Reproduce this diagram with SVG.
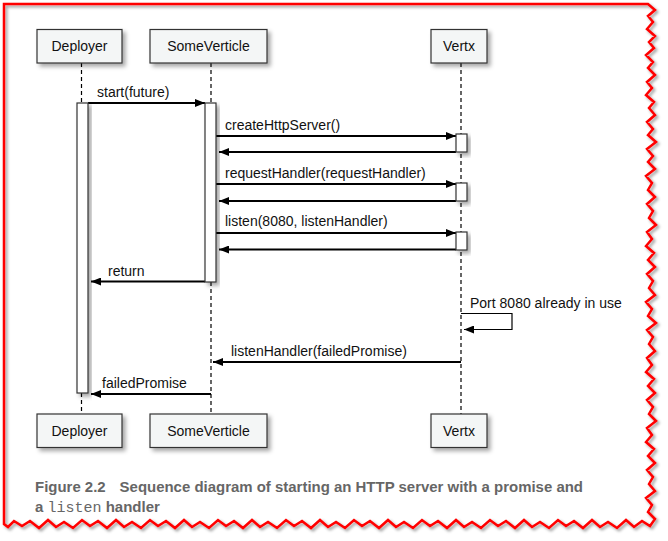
<svg xmlns="http://www.w3.org/2000/svg" width="668" height="541" viewBox="0 0 668 541">
<defs>
  <filter id="sh" x="-20%" y="-20%" width="150%" height="150%">
    <feDropShadow dx="3" dy="3" stdDeviation="2" flood-color="#000" flood-opacity="0.35"/>
  </filter>
  <filter id="bsh" x="-5%" y="-5%" width="110%" height="110%">
    <feDropShadow dx="2" dy="2" stdDeviation="1.5" flood-color="#000" flood-opacity="0.4"/>
  </filter>
  <marker id="ah" viewBox="0 0 10 8" refX="10" refY="4" markerWidth="10" markerHeight="8" markerUnits="userSpaceOnUse" orient="auto">
    <path d="M0,0 L10,4 L0,8 z" fill="#000"/>
  </marker>
</defs>
<style>
  .box{fill:#f4f6f6;stroke:#333;stroke-width:1.2;filter:url(#sh)}
  .bar{fill:#fff;stroke:#333;stroke-width:1.2;filter:url(#sh)}
  .life{stroke:#000;stroke-width:1.2;stroke-dasharray:4,3;fill:none}
  .msg{stroke:#000;stroke-width:1.8;fill:none;marker-end:url(#ah)}
  .self{stroke:#000;stroke-width:1.2;fill:none;marker-end:url(#ah)}
  text{font-family:"Liberation Sans",Arial,sans-serif;font-size:14px;fill:#111}
  .c{text-anchor:middle}
  .cap{font-family:"Liberation Sans",Arial,sans-serif;font-weight:bold;font-size:15px;fill:#666}
  .mono{font-family:"Liberation Mono","Courier New",monospace;font-weight:normal}
</style>
<rect width="668" height="541" fill="#fff"/>
<path filter="url(#bsh)" fill="none" stroke="#f00" stroke-width="2.5" stroke-linejoin="miter" d="M4,4 L648,4 L655,10 L648,16 L653,22 L647,29 L655,36 L649,42 L654,48 L646,55 L653,62 L648,68 L655,75 L647,82 L652,88 L646,95 L654,102 L649,108 L655,115 L647,122 L653,129 L648,135 L656,142 L647,149 L653,156 L648,162 L655,169 L646,176 L652,183 L648,190 L655,197 L647,204 L653,211 L649,218 L656,225 L647,232 L652,239 L646,246 L654,253 L648,260 L655,267 L647,274 L653,281 L649,288 L655,295 L646,302 L652,309 L648,316 L656,323 L647,330 L653,337 L649,344 L655,351 L647,358 L652,365 L646,372 L654,379 L648,386 L655,393 L647,400 L653,407 L649,414 L656,421 L647,428 L652,435 L646,442 L654,449 L648,456 L655,463 L647,470 L653,477 L649,484 L655,491 L646,498 L652,505 L648,512 L655,519 L650,526 L642,521 L634,527 L626,520 L617,528 L608,522 L600,527 L592,520 L583,528 L574,521 L566,526 L558,520 L549,528 L540,522 L532,527 L524,520 L515,528 L506,521 L498,526 L490,520 L481,528 L472,522 L464,527 L456,520 L447,528 L438,521 L430,526 L422,520 L413,528 L404,522 L396,527 L388,520 L379,528 L370,521 L362,526 L354,520 L345,528 L336,522 L328,527 L320,520 L311,528 L302,521 L294,526 L286,520 L277,528 L268,522 L260,527 L252,520 L243,528 L234,521 L226,526 L218,520 L209,528 L200,522 L192,527 L184,520 L175,528 L166,521 L158,526 L150,520 L141,528 L132,522 L124,527 L116,520 L107,528 L98,521 L90,526 L82,520 L73,528 L64,522 L56,527 L48,520 L39,528 L30,521 L22,526 L14,521 L8,527 L4,524 Z"/>

<g id="connectors">
  <!-- lifelines -->
  <line class="life" x1="81.5" y1="63" x2="81.5" y2="103"/>
  <line class="life" x1="81.5" y1="393" x2="81.5" y2="414"/>
  <line class="life" x1="211" y1="63" x2="211" y2="103"/>
  <line class="life" x1="211" y1="282" x2="211" y2="414"/>
  <line class="life" x1="461" y1="63" x2="461" y2="414"/>
  <!-- messages -->
  <line class="msg" x1="88" y1="103" x2="205" y2="103"/>
  <line class="msg" x1="216" y1="136" x2="456" y2="136"/>
  <line class="msg" x1="456" y1="152" x2="219" y2="152"/>
  <line class="msg" x1="216" y1="184" x2="456" y2="184"/>
  <line class="msg" x1="456" y1="201" x2="219" y2="201"/>
  <line class="msg" x1="216" y1="233" x2="456" y2="233"/>
  <line class="msg" x1="456" y1="249.5" x2="219" y2="249.5"/>
  <line class="msg" x1="205" y1="281.5" x2="91" y2="281.5"/>
  <polyline class="self" points="461,313.5 512,313.5 512,329.5 464,329.5"/>
  <line class="msg" x1="461" y1="362" x2="213" y2="362"/>
  <line class="msg" x1="211" y1="394" x2="91" y2="394"/>
</g>

<g id="bars">
  <rect class="bar" x="77" y="103" width="11" height="290"/>
  <rect class="bar" x="205" y="103" width="11" height="179"/>
  <rect class="bar" x="456" y="134" width="11" height="18"/>
  <rect class="bar" x="456" y="183" width="11" height="18"/>
  <rect class="bar" x="456" y="232" width="11" height="18"/>
</g>

<g id="labels">
  <text x="97" y="97">start(future)</text>
  <text x="225" y="130">createHttpServer()</text>
  <text x="225" y="178">requestHandler(requestHandler)</text>
  <text x="225" y="226">listen(8080, listenHandler)</text>
  <text x="108" y="276">return</text>
  <text x="470" y="308">Port 8080 already in use</text>
  <text x="231" y="356">listenHandler(failedPromise)</text>
  <text x="102" y="388">failedPromise</text>
</g>

<g id="Deployer-top"><rect class="box" x="37" y="29.5" width="85" height="33.5"/><text class="c" x="79.5" y="51">Deployer</text></g>
<g id="SomeVerticle-top"><rect class="box" x="150" y="29.5" width="117" height="33.5"/><text class="c" x="208.5" y="51">SomeVerticle</text></g>
<g id="Vertx-top"><rect class="box" x="431" y="29.5" width="56" height="33.5"/><text class="c" x="459" y="51">Vertx</text></g>

<g id="Deployer-bottom"><rect class="box" x="37" y="414" width="85" height="33.5"/><text class="c" x="79.5" y="435.5">Deployer</text></g>
<g id="SomeVerticle-bottom"><rect class="box" x="150" y="414" width="117" height="33.5"/><text class="c" x="208.5" y="435.5">SomeVerticle</text></g>
<g id="Vertx-bottom"><rect class="box" x="431" y="414" width="56" height="33.5"/><text class="c" x="459" y="435.5">Vertx</text></g>

<g id="caption">
  <text class="cap" x="35" y="492" textLength="548" lengthAdjust="spacingAndGlyphs">Figure 2.2<tspan dx="14">Sequence diagram of starting an HTTP server with a promise and</tspan></text>
  <text class="cap" x="35" y="512">a <tspan class="mono">listen</tspan> handler</text>
</g>
</svg>
